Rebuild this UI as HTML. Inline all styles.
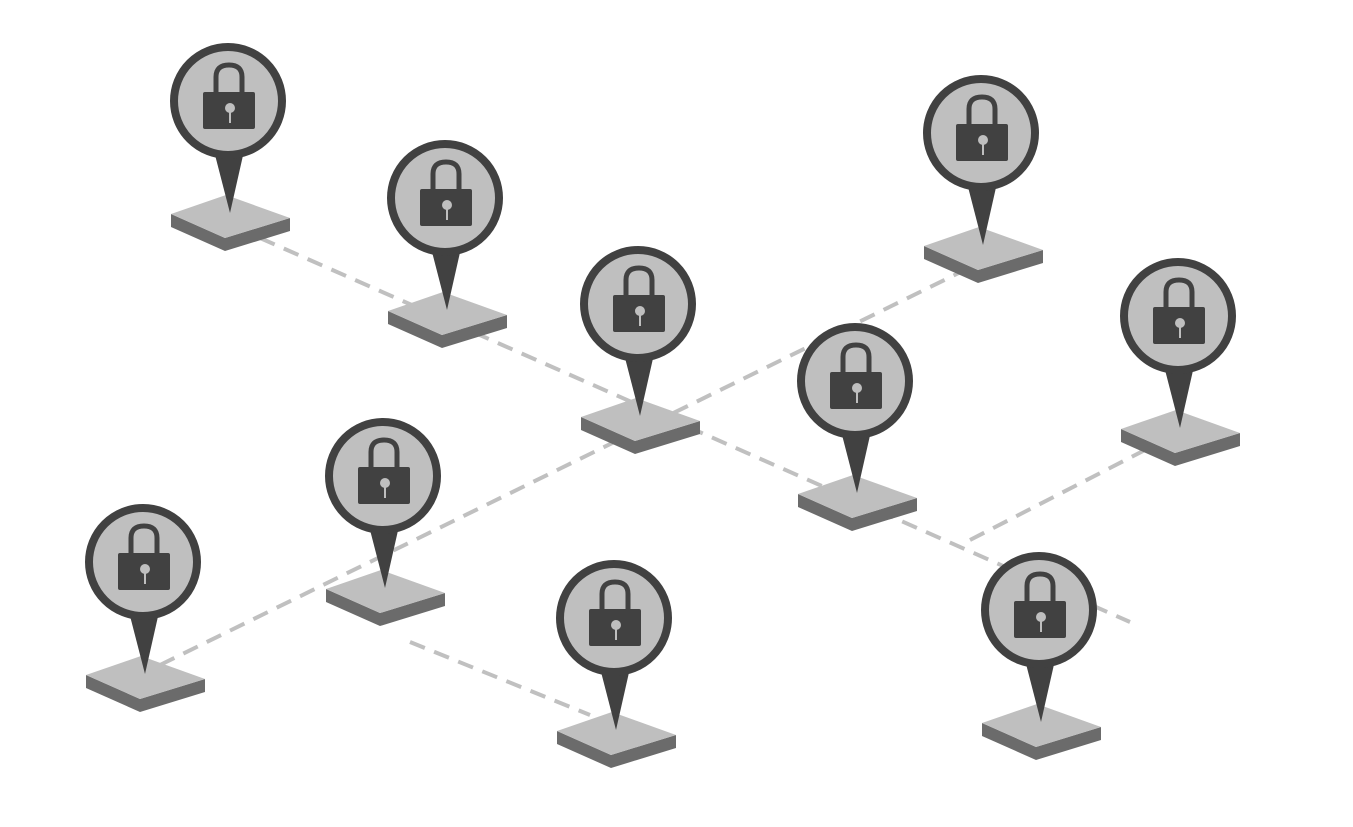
<!DOCTYPE html>
<html><head><style>html,body{margin:0;padding:0;background:#fff;}svg{display:block}</style></head>
<body>
<svg width="1353" height="827" viewBox="0 0 1353 827" xmlns="http://www.w3.org/2000/svg">
<defs>
<g id="pin">
  <polygon points="-57,113 -3,137 -3,150 -57,126" fill="#6b6b6b"/>
  <polygon points="-3,137 62,117 62,130 -3,150" fill="#6b6b6b"/>
  <polygon points="-57,113 -2,94 62,117 -3,137" fill="#bfbfbf"/>
  <polygon points="-14,50 16,50 2,112" fill="#414141"/>
  <circle cx="0" cy="0" r="54" fill="#bfbfbf" stroke="#414141" stroke-width="8"/>
  <path d="M-12,-6 V-24 Q-12,-36 1,-36 Q14,-36 14,-24 V-6" fill="none" stroke="#414141" stroke-width="5"/>
  <rect x="-25" y="-9" width="52" height="37" rx="2" fill="#414141"/>
  <circle cx="2" cy="7" r="5" fill="#bfbfbf"/>
  <rect x="1" y="8" width="2" height="14" fill="#bfbfbf"/>
</g>
</defs>
<g stroke="#c0c0c0" stroke-width="4" stroke-dasharray="16 10" fill="none">
  <line x1="260" y1="238" x2="1130" y2="622"/>
  <line x1="160" y1="665" x2="975" y2="265"/>
  <line x1="970" y1="540" x2="1145" y2="450"/>
  <line x1="410" y1="642" x2="590" y2="715"/>
</g>
<use href="#pin" x="228" y="101"/>
<use href="#pin" x="981" y="133"/>
<use href="#pin" x="445" y="198"/>
<use href="#pin" x="638" y="304"/>
<use href="#pin" x="1178" y="316"/>
<use href="#pin" x="855" y="381"/>
<use href="#pin" x="383" y="476"/>
<use href="#pin" x="143" y="562"/>
<use href="#pin" x="1039" y="610"/>
<use href="#pin" x="614" y="618"/>
</svg>
</body></html>
